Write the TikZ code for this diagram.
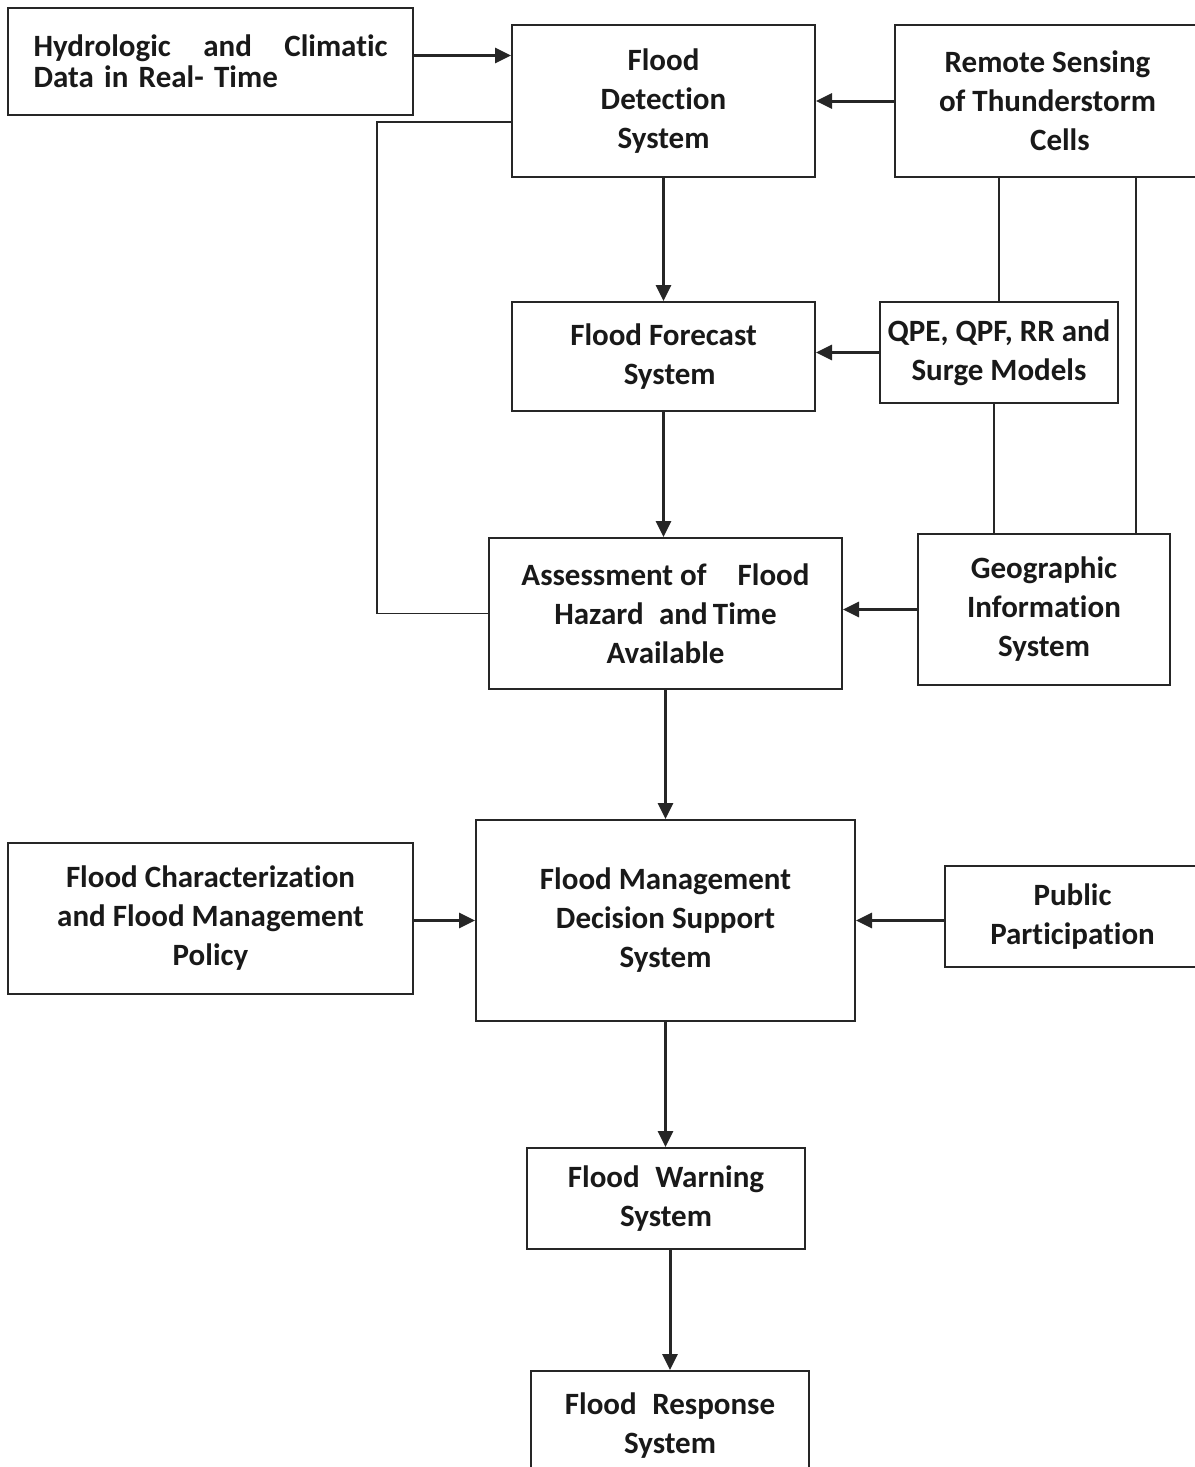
\documentclass[tikz,border=0pt]{standalone}
\usepackage{fontspec}
\setmainfont{Carlito}[Ligatures=NoCommon]
\usetikzlibrary{arrows.meta, positioning, calc}

\begin{document}
\begin{tikzpicture}[x=0.5pt, y=-0.5pt, >={Triangle[length=8pt,width=7.5pt]},
          font=\fontsize{15.5}{19.5}\selectfont\bfseries,
          box/.style={draw=black!85, line width=1pt, align=center,
                      inner sep=2pt, text=black!90},
          arr/.style={->, black!85, line width=1.5pt},
          link/.style={black!85, line width=0.75pt}]
        \useasboundingbox (0,0) rectangle (1194,1467);
        % top row
        \node[box, minimum width=202.5pt, minimum height=53.5pt, align=left,
              text width=177pt, font=\fontsize{15.5}{15.5}\selectfont\bfseries]
              (hyd) at (210.5,61.5) {Hydrologic\hfill and\hfill Climatic\\Data in Real- Time\\[-7pt]};
        \node[box, minimum width=151.5pt, minimum height=76pt] (det) at (663.5,101)
              {Flood\\Detection\\System};
        \node[box, minimum width=152.5pt, minimum height=76pt] (rs) at (1047.5,101)
              {Remote Sensing\\of Thunderstorm\\\hspace*{0.8em}Cells};
        % forecast row
        \node[box, minimum width=151.5pt, minimum height=54.5pt] (fc) at (663.5,356.5)
              {Flood Forecast\\\hspace*{0.4em}System};
        \node[box, minimum width=119pt, minimum height=50.5pt] (qpe) at (999,352.5)
              {QPE, QPF, RR and\\Surge Models};
        % assessment row
        \node[box, minimum width=176.5pt, minimum height=75.5pt] (ass) at (665.5,613.5)
              {Assessment of\quad Flood\\Hazard\enspace and\,Time\\Available};
        \node[box, minimum width=126pt, minimum height=75.5pt] (gis) at (1044,609.5)
              {Geographic\\Information\\System};
        % decision row
        \node[box, minimum width=189.5pt, minimum height=100.5pt] (dss) at (665.5,920.5)
              {Flood Management\\Decision Support\\System};
        \node[box, minimum width=202.5pt, minimum height=75.5pt] (fcp) at (210.5,918.5)
              {Flood Characterization\\and Flood Management\\Policy};
        \node[box, minimum width=127.5pt, minimum height=50.5pt] (pub) at (1072.5,916.5)
              {Public\\Participation};
        % warning and response
        \node[box, minimum width=139pt, minimum height=50.5pt] (fws) at (666,1198.5)
              {Flood\enspace Warning\\System};
        \node[box, minimum width=139pt, minimum height=54.5pt] (frs) at (670,1425.5)
              {Flood\enspace Response\\System};
        % arrows
        \draw[arr] ([yshift=3pt]hyd.east) -- ([yshift=3pt]hyd.east -| det.west);
        \draw[arr] (rs.west) -- (rs.west -| det.east);
        \draw[arr] (det.south) -- (det.south |- fc.north);
        \draw[arr] (qpe.west) -- (qpe.west -| fc.east);
        \draw[arr] (fc.south) -- (fc.south |- ass.north);
        \draw[arr] (gis.west) -- (gis.west -| ass.east);
        \draw[arr] (ass.south) -- (ass.south |- dss.north);
        \draw[arr] (fcp.east |- dss.west) -- (dss.west);
        \draw[arr] (pub.west |- dss.east) -- (dss.east);
        \draw[arr] (dss.south) -- (dss.south |- fws.north);
        \draw[arr] (frs.north |- fws.south) -- (frs.north);
        % plain links
        \coordinate (gtap) at ([xshift=-17.5pt]gis.north east);
        \coordinate (fbk) at ([yshift=-10.5pt]det.west);
        \draw[link] (qpe.north |- rs.south) -- (qpe.north);
        \draw[link] (gtap |- rs.south) -- (gtap);
        \draw[link] ([xshift=-2.5pt]qpe.south) -- ([xshift=-2.5pt]qpe.south |- gis.north);
        \draw[link] (fbk) -- ++(-134,0) |- (ass.west);
      \end{tikzpicture}
\end{document}
